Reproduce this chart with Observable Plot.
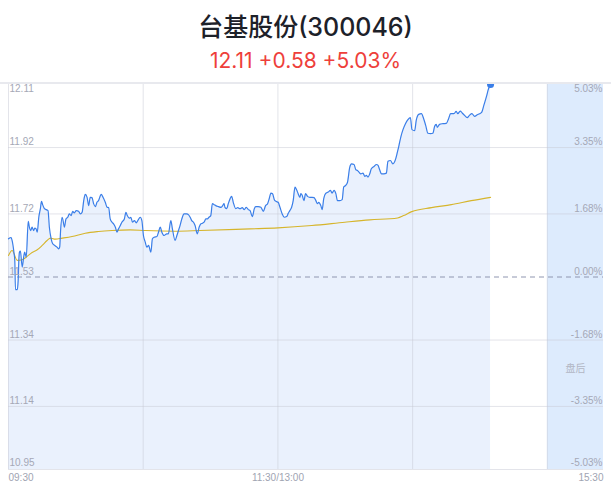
<!DOCTYPE html>
<html><head><meta charset="utf-8">
<script src="https://cdn.jsdelivr.net/npm/d3@7"></script>
<script src="https://cdn.jsdelivr.net/npm/@observablehq/plot@0.6"></script>
<style>
body{margin:0;background:#fff;width:611px;height:492px;overflow:hidden;font-family:"Inter","Noto Sans CJK SC",sans-serif;}
#head{height:82px;border-bottom:2px solid #e8e9ee;position:relative}
#title{position:absolute;left:0;right:0;top:12px;text-align:center;font-size:25px;font-weight:500;color:#1d2129;line-height:30px;font-family:"Inter","Noto Sans CJK SC",sans-serif}
#sub{position:absolute;left:0;right:0;top:49px;text-align:center;font-size:21px;color:#ee3f3b;line-height:24px;font-family:"Inter","Noto Sans",sans-serif}
#chart svg{display:block}
</style></head>
<body>
<div id="head"><div id="title">台基股份(300046)</div><div id="sub">12.11 +0.58 +5.03%</div></div>
<div id="chart"></div>
<script>
// minutes since 09:30 (trading minutes; 120 = 11:30/13:00, 240 = 15:00, 265 = 15:30 after-hours end)
const minutes = [0,1.2,1.6,2.4,2.8,3.1,3.9,4.3,4.6,4.9,5.3,6.1,6.8,7.2,7.9,8.8,9.3,9.9,10.5,11.2,11.7,12.3,12.8,13.5,14.2,14.7,15.2,16,16.8,17.6,18.2,19,19.7,20.6,21.6,22.4,22.8,23.2,23.9,24.3,24.9,25.6,26.4,27.1,27.9,28.6,29.3,30.2,31.2,32,32.8,33.5,34.2,35,35.7,36.4,37.2,37.9,38.7,39.4,40.1,41.3,42.1,43.1,43.9,44.6,45.3,46.1,46.8,47.6,48.3,49,49.8,50.5,51.6,52.3,52.9,53.8,54.5,
55.2,56.1,56.9,57.6,58.7,59.4,60.1,60.9,61.6,62.4,63.4,64.1,64.9,66.1,66.8,67.6,68.3,69.3,70.5,71.2,72.3,73,74.2,75,75.7,76.4,77.2,78.2,79.4,80.1,80.9,81.6,82.4,83.1,84.1,84.9,85.6,86.4,87.1,87.9,88.6,89.3,90.1,90.8,91.6,92.3,93.5,94.7,95.4,96,96.4,97.2,97.9,98.7,99.4,100.1,101.2,102.1,103.1,104.1,105,105.9,106.8,
107.6,108.6,109.5,110.1,111.2,112.4,113.5,114.5,115.4,116,116.9,117.6,118.4,119.1,
120.1,120.9,121.9,122.8,123.9,124.6,125.3,126.1,126.8,127.6,128.3,129,129.8,130.2,130.8,131.6,132.3,133.2,134.2,135.2,136.1,136.9,137.6,138.2,139.1,139.7,140.4,141.2,142.4,143.4,144.1,145,145.8,146.5,147.6,148.6,149.3,150.2,151,152,152.8,153.9,154.7,155.4,156.1,156.9,157.9,158.7,159.4,160.1,160.9,161.6,162.8,163.9,164.6,165.3,166.1,167.2,168.3,169,170.1,171.2,172.3,173.2,173.9,174.7,175.7,176.8,177.9,179,179.7,180.9,181.6,182.7,183.9,184.9,185.8,186.8,188,189,189.8,190.5,191,192,193.5,195,196,196.9,198.4,199.4,200.1,201.2,202.1,203.1,204.3,205.3,206.4,207.6,208.8,209.8,210.8,211.7,212.8,213.8,214.7];
const prices = [11.645,11.649,11.640,11.605,11.580,11.492,11.492,11.519,11.580,11.605,11.608,11.560,11.592,11.605,11.590,11.698,11.680,11.670,11.680,11.670,11.677,11.675,11.665,11.710,11.736,11.758,11.748,11.736,11.733,11.730,11.680,11.645,11.630,11.625,11.620,11.615,11.620,11.670,11.710,11.700,11.680,11.705,11.710,11.720,11.715,11.728,11.723,11.730,11.728,11.720,11.725,11.760,11.779,11.770,11.745,11.770,11.769,11.751,11.742,11.755,11.760,11.779,11.770,11.755,11.740,11.739,11.705,11.695,11.690,11.680,11.665,11.675,11.685,11.695,11.705,11.725,11.715,11.707,11.710,
11.695,11.700,11.693,11.700,11.710,11.700,11.655,11.635,11.620,11.625,11.605,11.645,11.650,11.652,11.665,11.680,11.665,11.655,11.660,11.660,11.700,11.675,11.640,11.655,11.670,11.685,11.705,11.720,11.720,11.718,11.710,11.700,11.695,11.685,11.660,11.680,11.690,11.692,11.695,11.705,11.705,11.710,11.715,11.751,11.748,11.745,11.742,11.740,11.745,11.751,11.740,11.736,11.751,11.766,11.773,11.755,11.736,11.739,11.736,11.739,11.733,11.740,11.733,
11.730,11.712,11.736,11.742,11.742,11.740,11.728,11.745,11.751,11.763,11.783,11.781,11.763,11.758,
11.755,11.740,11.720,11.710,11.712,11.722,11.730,11.740,11.760,11.801,11.793,11.781,11.770,11.781,11.776,11.760,11.781,11.773,11.770,11.770,11.769,11.760,11.751,11.755,11.745,11.733,11.766,11.781,11.786,11.791,11.783,11.791,11.781,11.760,11.760,11.763,11.801,11.806,11.816,11.861,11.871,11.869,11.853,11.851,11.846,11.841,11.843,11.833,11.836,11.831,11.841,11.856,11.863,11.869,11.866,11.853,11.841,11.841,11.843,11.879,11.881,11.871,11.883,11.906,11.926,11.951,11.974,11.992,12.004,12.010,11.974,11.971,12.002,12.020,12.022,12.007,11.987,11.963,11.962,11.963,11.984,11.990,11.981,11.990,11.992,11.993,12.007,12.022,12.022,12.029,12.022,12.030,12.024,12.017,12.010,12.017,12.022,12.014,12.019,12.022,12.027,12.047,12.072,12.097,12.110];
const avgMinutes = [0,1.6,3.9,6.1,8.3,10.5,12.8,15,17.2,18.7,20.9,23.9,28.3,34.2,40.1,46.1,54.2,60.9,74.2,85.3,107.6,120,135.1,149.8,160.9,173.3,176,179.6,188.4,197.2,206.1,214.7];
const avgPrices = [11.595,11.610,11.580,11.582,11.592,11.604,11.612,11.625,11.640,11.647,11.644,11.647,11.652,11.662,11.667,11.670,11.672,11.670,11.668,11.670,11.675,11.678,11.685,11.695,11.702,11.708,11.715,11.727,11.739,11.748,11.760,11.770];

const prevClose = 11.53;
const priceTicks = [12.11, 11.92, 11.72, 11.53, 11.34, 11.14, 10.95];
const pctLabels = ["5.03%", "3.35%", "1.68%", "0.00%", "-1.68%", "-3.35%", "-5.03%"];
const gridPrices = [11.92, 11.72, 11.34, 11.14, 10.95];
const gridMinutes = [0, 60, 120, 180, 240];
const timeTicks = [0, 120, 265];
const timeLabels = ["09:30", "11:30/13:00", "15:30"];
const postStart = 240, postEnd = 265;
const yMin = 10.95, yMax = 12.11;

const n = Math.min(minutes.length, prices.length);
const idx = d3.range(n);
const aidx = d3.range(Math.min(avgMinutes.length, avgPrices.length));
const last = n - 1;
const labelFont = "Liberation Sans, Arial, sans-serif";
const gridStroke = "#c8cad6";
// label offsets (px): top label sits below its line, the rest sit above
const tickDy = priceTicks.map((d, i) => i === 0 ? 4 : (i === priceTicks.length - 1 ? -6.5 : -5.5));

const chart = Plot.plot({
  width: 611,
  height: 408,
  marginTop: 0,
  marginBottom: 23,
  marginLeft: 8,
  marginRight: 8,
  x: {domain: [0, 265], axis: null},
  y: {domain: [yMin, yMax], axis: null},
  style: {fontFamily: labelFont, background: "transparent"},
  marks: [
    Plot.rect([0], {x1: postStart, x2: postEnd, y1: yMin, y2: yMax, fill: "#ddebfd"}),
    Plot.areaY(idx, {x: i => minutes[i], y1: yMin, y2: i => prices[i], fill: "#eaf1fd", curve: "monotone-x"}),
    Plot.ruleY(gridPrices, {stroke: gridStroke, strokeOpacity: 0.5}),
    Plot.ruleX(gridMinutes, {stroke: gridStroke, strokeOpacity: 0.5}),
    Plot.ruleY([prevClose], {stroke: "#8f96b0", strokeDasharray: "5,4"}),
    Plot.line(aidx, {x: i => avgMinutes[i], y: i => avgPrices[i], stroke: "#d6b52c", strokeWidth: 1.1, curve: "monotone-x"}),
    Plot.line(idx, {x: i => minutes[i], y: i => prices[i], stroke: "#3a7ee8", strokeWidth: 1.2, curve: "monotone-x"}),
    Plot.dot([last], {x: i => minutes[i], y: i => prices[i], r: 3.5, fill: "#3a7ee8"}),
    Plot.text(priceTicks, {x: 0, y: d => d, text: d => d.toFixed(2), textAnchor: "start", dx: 1, fill: "#a5a8b6", fontSize: 10, className: "ptick"}),
    Plot.text(pctLabels, {x: 265, y: (d, i) => priceTicks[i], text: d => d, textAnchor: "end", dx: -1, fill: "#a5a8b6", fontSize: 10, className: "ptick"}),
    Plot.text([0], {x: timeTicks[0], y: yMin, text: [timeLabels[0]], textAnchor: "start", dy: 8, fill: "#a0a4b2", fontSize: 10}),
    Plot.text([0], {x: timeTicks[1], y: yMin, text: [timeLabels[1]], textAnchor: "middle", dy: 8, fill: "#a0a4b2", fontSize: 10}),
    Plot.text([0], {x: timeTicks[2], y: yMin, text: [timeLabels[2]], textAnchor: "end", dy: 8, fill: "#a0a4b2", fontSize: 10}),
    Plot.text(["盘后"], {x: (postStart + postEnd) / 2, y: (11.34 + 11.14) / 2, text: d => d, dy: -4, fill: "#b2b6c4", fontSize: 10, fontFamily: "Noto Sans CJK SC"})
  ]
});
document.getElementById("chart").appendChild(chart);
chart.querySelectorAll("g.ptick").forEach(g => {
  g.querySelectorAll("text").forEach((t, i) => {
    t.setAttribute("transform", (t.getAttribute("transform") || "") + ` translate(0,${tickDy[i]})`);
  });
});
</script>
</body></html>
